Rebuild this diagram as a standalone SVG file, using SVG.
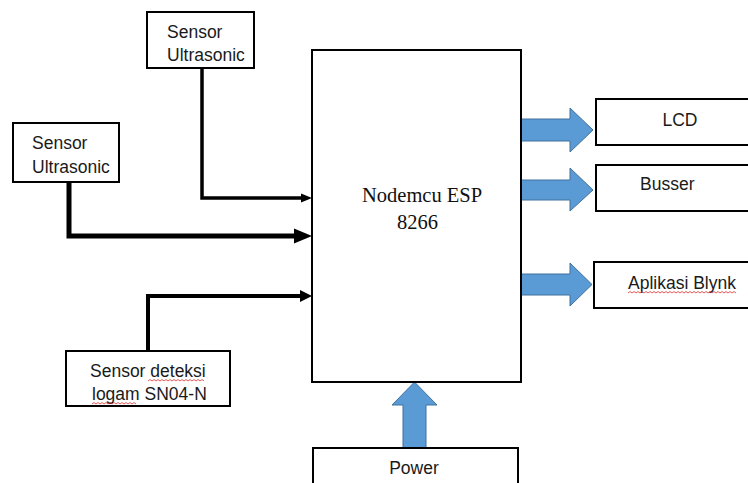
<svg xmlns="http://www.w3.org/2000/svg" width="748" height="483" viewBox="0 0 748 483">
<style>
.box{fill:#fff;stroke:#000;stroke-width:2}
.lbl{font-family:"Liberation Sans",Arial,sans-serif;font-size:17.5px;fill:#1a1a1a}
.main{font-family:"Liberation Serif","Times New Roman",serif;font-size:20.5px;fill:#111}
.wire{fill:none;stroke:#000;stroke-linejoin:miter}
.head{fill:#000}
.blue{fill:#5B9BD5;stroke:#41719C;stroke-width:1}
.squig{fill:none;stroke:#e03030;stroke-width:0.8}
</style>
<rect width="748" height="483" fill="#fff"/>
<g id="connectors">
<path class="wire" d="M202,68 V198 H302" stroke-width="3.5"/>
<polygon class="head" points="301,193.5 312,198 301,202.5"/>
<path class="wire" d="M69,182 V236 H296" stroke-width="5"/>
<polygon class="head" points="294,228.5 312,236 294,243.5"/>
<path class="wire" d="M148,351 V296 H300" stroke-width="4"/>
<polygon class="head" points="300,290 312,296 300,302"/>
<polygon class="blue" points="521,119 570,119 570,108 593,130 570,152 570,141 521,141"/>
<polygon class="blue" points="521,180 570,180 570,168 593,190 570,211 570,200 521,200"/>
<polygon class="blue" points="518,274 570,274 570,263 592,284.5 570,306 570,295 518,295"/>
<polygon class="blue" points="403,448 403,405 392,405 414.5,382 437,405 426,405 426,448"/>
</g>
<g id="sensor1">
<rect class="box" x="147" y="12" width="107" height="56"/>
<text class="lbl" x="167" y="38">Sensor</text>
<text class="lbl" x="167" y="61">Ultrasonic</text>
</g>
<g id="sensor2">
<rect class="box" x="13" y="123" width="106" height="59"/>
<text class="lbl" x="32" y="149">Sensor</text>
<text class="lbl" x="32" y="173">Ultrasonic</text>
</g>
<g id="sensor3">
<rect class="box" x="66" y="351" width="164" height="55"/>
<text class="lbl" x="90" y="377">Sensor deteksi</text>
<text class="lbl" x="92" y="400">logam SN04-N</text>
<path class="squig" d="M148,381 l2,-1.5 l2,1.5 l2,-1.5 l2,1.5 l2,-1.5 l2,1.5 l2,-1.5 l2,1.5 l2,-1.5 l2,1.5 l2,-1.5 l2,1.5 l2,-1.5 l2,1.5 l2,-1.5 l2,1.5 l2,-1.5 l2,1.5 l2,-1.5 l2,1.5 l2,-1.5 l2,1.5 l2,-1.5 l2,1.5 l2,-1.5 l2,1.5 l2,-1.5 l2,1.5"/>
<path class="squig" d="M92,404 l2,-1.5 l2,1.5 l2,-1.5 l2,1.5 l2,-1.5 l2,1.5 l2,-1.5 l2,1.5 l2,-1.5 l2,1.5 l2,-1.5 l2,1.5 l2,-1.5 l2,1.5 l2,-1.5 l2,1.5 l2,-1.5 l2,1.5 l2,-1.5 l2,1.5 l2,-1.5 l2,1.5"/>
</g>
<g id="nodemcu">
<rect class="box" x="312" y="50" width="209" height="332"/>
<text class="main" x="362" y="202">Nodemcu ESP</text>
<text class="main" x="397" y="229">8266</text>
</g>
<g id="lcd">
<rect class="box" x="596" y="99" width="160" height="46"/>
<text class="lbl" x="680" y="126" text-anchor="middle">LCD</text>
</g>
<g id="busser">
<rect class="box" x="596" y="165" width="160" height="46"/>
<text class="lbl" x="640" y="190">Busser</text>
</g>
<g id="blynk">
<rect class="box" x="594" y="262" width="162" height="46"/>
<text class="lbl" x="628" y="289">Aplikasi Blynk</text>
<path class="squig" d="M628,293 l2,-1.5 l2,1.5 l2,-1.5 l2,1.5 l2,-1.5 l2,1.5 l2,-1.5 l2,1.5 l2,-1.5 l2,1.5 l2,-1.5 l2,1.5 l2,-1.5 l2,1.5 l2,-1.5 l2,1.5 l2,-1.5 l2,1.5 l2,-1.5 l2,1.5 l2,-1.5 l2,1.5 l2,-1.5 l2,1.5 l2,-1.5 l2,1.5 l2,-1.5 l2,1.5 l2,-1.5 l2,1.5 l2,-1.5 l2,1.5 l2,-1.5 l2,1.5 l2,-1.5 l2,1.5 l2,-1.5 l2,1.5 l2,-1.5 l2,1.5 l2,-1.5 l2,1.5 l2,-1.5 l2,1.5 l2,-1.5 l2,1.5 l2,-1.5 l2,1.5 l2,-1.5 l2,1.5 l2,-1.5 l2,1.5 l2,-1.5 l2,1.5"/>
</g>
<g id="power">
<rect class="box" x="313" y="448" width="205" height="50"/>
<text class="lbl" x="414" y="474" text-anchor="middle">Power</text>
</g>
</svg>
